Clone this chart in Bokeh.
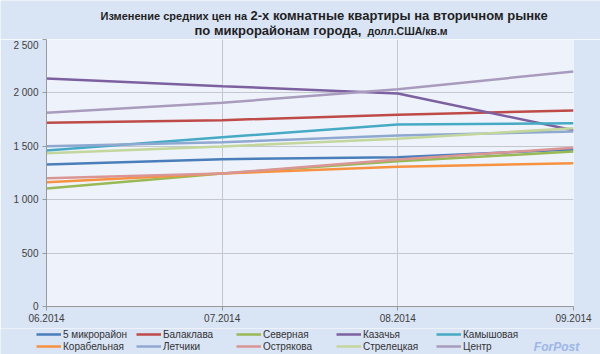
from bokeh.plotting import figure
from bokeh.models import FixedTicker, Legend, LegendItem, Label, Range1d
from bokeh.layouts import column, row
from bokeh.embed import file_html
from bokeh.resources import INLINE

months = ["06.2014", "07.2014", "08.2014", "09.2014"]
districts = ["5 микрорайон", "Балаклава", "Северная", "Казачья", "Камышовая",
             "Корабельная", "Летчики", "Острякова", "Стрелецкая", "Центр"]
v_5mkr = [1330, 1379, 1398, 1470]
v_balaklava = [1720, 1745, 1795, 1835]
v_severnaya = [1105, 1245, 1360, 1451]
v_kazachya = [2135, 2063, 1995, 1650]
v_kamyshovaya = [1460, 1585, 1704, 1716]
v_korabelnaya = [1164, 1245, 1308, 1342]
v_letchiki = [1501, 1539, 1600, 1638]
v_ostryakova = [1200, 1245, 1376, 1486]
v_streletskaya = [1435, 1498, 1570, 1670]
v_centr = [1815, 1907, 2035, 2200]
series = [v_5mkr, v_balaklava, v_severnaya, v_kazachya, v_kamyshovaya,
          v_korabelnaya, v_letchiki, v_ostryakova, v_streletskaya, v_centr]
colors = ["#4A7EBB", "#BE4B48", "#98B954", "#7D60A0", "#46AAC5",
          "#F69240", "#8FA8D0", "#D99694", "#C3D69B", "#A99BBE"]
y_ticks = [0, 500, 1000, 1500, 2000, 2500]
y_labels = ["0", "500", "1 000", "1 500", "2 000", "2 500"]

FONT = "Liberation Sans"
BG = "#D9E4F5"
x = list(range(len(months)))


def strip(h):
    f = figure(width=600, height=h, output_backend="svg", toolbar_location=None,
               x_range=Range1d(0, 600), y_range=Range1d(0, h),
               min_border=0, x_axis_type=None, y_axis_type=None)
    f.background_fill_color = BG
    f.border_fill_color = BG
    f.outline_line_color = None
    f.xgrid.visible = False
    f.ygrid.visible = False
    return f


# title strip
tf = strip(39)
tstyle = dict(x_units="screen", y_units="screen", text_font=FONT,
              text_font_style="bold", text_color="#1F1F1F",
              text_baseline="alphabetic")
tf.add_layout(Label(x=100, y=24, text="Изменение средних цен на",
                    text_font_size="11px", **tstyle))
tf.add_layout(Label(x=250, y=24, text="2-х комнатные квартиры на вторичном рынке",
                    text_font_size="13px", **tstyle))
tf.add_layout(Label(x=194, y=9, text="по микрорайонам города,",
                    text_font_size="13px", **tstyle))
tf.add_layout(Label(x=367, y=9, text="долл.США/кв.м",
                    text_font_size="10.5px", **tstyle))

# main chart
p = figure(width=600, height=289, output_backend="svg", toolbar_location=None,
           x_range=Range1d(0, 3), y_range=Range1d(0, 2500),
           min_border_left=46, min_border_right=27, min_border_top=0,
           min_border_bottom=22)
p.background_fill_color = "#EEF3FB"
p.border_fill_color = BG
p.outline_line_color = None

for vals, c in zip(series, colors):
    p.line(x, vals, line_color=c, line_width=2.5)

p.xaxis.ticker = FixedTicker(ticks=x)
p.xaxis.major_label_overrides = {i: m for i, m in enumerate(months)}
p.yaxis.ticker = FixedTicker(ticks=y_ticks)
p.yaxis.major_label_overrides = {t: l for t, l in zip(y_ticks, y_labels)}
for ax in (p.xaxis[0], p.yaxis[0]):
    ax.axis_line_color = "#9A9A9A"
    ax.major_tick_line_color = "#9A9A9A"
    ax.minor_tick_line_color = None
    ax.major_tick_in = 0
    ax.major_tick_out = 4
    ax.major_label_text_font = FONT
    ax.major_label_text_font_size = "10px"
    ax.major_label_text_color = "#404040"
p.yaxis.major_label_standoff = 4
p.xaxis.major_label_standoff = 3
p.xgrid.grid_line_color = "#C4C8CE"
p.ygrid.grid_line_color = "#C4C8CE"

# legend strip (series drawn off-range; only their legend glyphs show)
lf = strip(26)
items = []
for d, vals, c in zip(districts, series, colors):
    r = lf.line(x, vals, line_color=c, line_width=2.5)
    items.append(LegendItem(label=d, renderers=[r]))
legend = Legend(items=items, orientation="horizontal", nrows=2,
                location=(36, 2), background_fill_alpha=0,
                border_line_color=None, label_text_font=FONT,
                label_text_font_size="10px", label_text_color="#333333",
                glyph_width=25, glyph_height=12, label_width=73,
                label_standoff=2, spacing=0, padding=0, margin=0,
                label_height=12)
lf.add_layout(legend, "center")
lf.add_layout(Label(x=556, y=1, x_units="screen", y_units="screen", text="ForPost",
                    text_font=FONT, text_font_size="12px",
                    text_font_style="bold italic", text_color="#9DB6E6",
                    text_align="center"))

layout = column(row(tf), p, row(lf), spacing=0)
open("out.html", "w").write(file_html(layout, INLINE))
